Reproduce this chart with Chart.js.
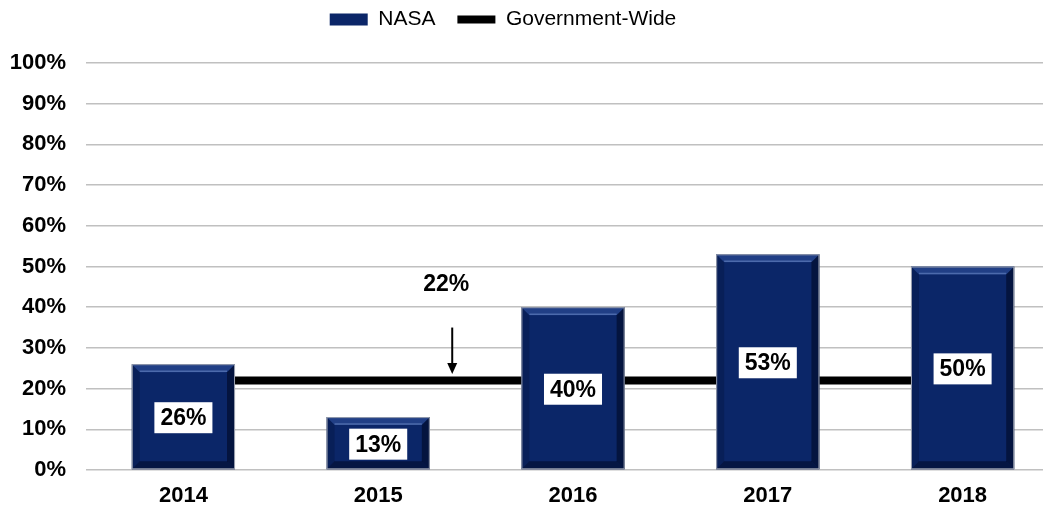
<!DOCTYPE html>
<html>
<head>
<meta charset="utf-8">
<script src="https://cdn.jsdelivr.net/npm/chart.js@4/dist/chart.umd.min.js"></script>
<style>
  html, body { margin: 0; padding: 0; background: #fff; overflow: hidden; }
  #wrap { position: relative; width: 1060px; height: 510px; }
</style>
</head>
<body>
<div id="wrap"><canvas id="chart"></canvas></div>
<script>
const years = ['2014', '2015', '2016', '2017', '2018'];
const nasaValues = [26, 13, 40, 53, 50];
const govWideValues = [22, 22, 22, 22, 22];
const yTicks = [0, 10, 20, 30, 40, 50, 60, 70, 80, 90, 100];

// callout above the government-wide line
const calloutText = '22%';
const calloutIndex = 1.38;
const calloutTextValue = 45.5;
const calloutArrowFrom = 35;
const calloutArrowTo = 23.6;

const navy = '#0b2668';
const font = 'Liberation Sans, Arial, sans-serif';

// bevelled look on the bars
const bevelPlugin = {
    id: 'bevel',
    afterDatasetDraw(chart, args) {
        if (args.index !== 0) return;
        const ctx = chart.ctx;
        const meta = chart.getDatasetMeta(0);
        const b = 8;
        meta.data.forEach(bar => {
            const l = bar.x - bar.width / 2, r = bar.x + bar.width / 2;
            const t = bar.y, bt = bar.base;
            ctx.save();
            // top
            ctx.fillStyle = 'rgba(60,95,170,0.45)';
            ctx.beginPath();
            ctx.moveTo(l, t); ctx.lineTo(r, t); ctx.lineTo(r - b, t + b); ctx.lineTo(l + b, t + b);
            ctx.fill();
            ctx.strokeStyle = 'rgba(120,150,210,0.5)';
            ctx.lineWidth = 1.5;
            ctx.beginPath();
            ctx.moveTo(l + b, t + b - 1); ctx.lineTo(r - b, t + b - 1);
            ctx.stroke();
            // left
            ctx.fillStyle = 'rgba(0,10,40,0.25)';
            ctx.beginPath();
            ctx.moveTo(l, t); ctx.lineTo(l + b, t + b); ctx.lineTo(l + b, bt - b); ctx.lineTo(l, bt);
            ctx.fill();
            // right
            ctx.fillStyle = 'rgba(0,5,30,0.55)';
            ctx.beginPath();
            ctx.moveTo(r, t); ctx.lineTo(r - b, t + b); ctx.lineTo(r - b, bt - b); ctx.lineTo(r, bt);
            ctx.fill();
            // bottom
            ctx.fillStyle = 'rgba(0,5,30,0.5)';
            ctx.beginPath();
            ctx.moveTo(l, bt); ctx.lineTo(l + b, bt - b); ctx.lineTo(r - b, bt - b); ctx.lineTo(r, bt);
            ctx.fill();
            ctx.strokeStyle = '#9aa0ae';
            ctx.lineWidth = 1;
            ctx.strokeRect(l + 0.5, t + 0.5, bar.width - 1, bt - t - 1);
            ctx.restore();
        });
    }
};

// value boxes inside the bars and the 22% callout
const labelPlugin = {
    id: 'labels',
    afterDatasetsDraw(chart) {
        const ctx = chart.ctx;
        const meta = chart.getDatasetMeta(0);
        ctx.save();
        ctx.font = 'bold 23px ' + font;
        ctx.textAlign = 'center';
        ctx.textBaseline = 'middle';
        meta.data.forEach((bar, i) => {
            const txt = nasaValues[i] + '%';
            const w = ctx.measureText(txt).width + 12;
            const h = 31;
            const cy = (bar.y + bar.base) / 2 + 1;
            ctx.fillStyle = '#fff';
            ctx.fillRect(bar.x - w / 2, cy - h / 2, w, h);
            ctx.fillStyle = '#000';
            ctx.fillText(txt, bar.x, cy + 1);
        });

        const x = chart.scales.x.getPixelForValue(calloutIndex);
        const y = chart.scales.y;
        ctx.fillText(calloutText, x - 6, y.getPixelForValue(calloutTextValue));
        const y1 = y.getPixelForValue(calloutArrowFrom);
        const y2 = y.getPixelForValue(calloutArrowTo);
        ctx.strokeStyle = '#000';
        ctx.lineWidth = 2;
        ctx.beginPath();
        ctx.moveTo(x, y1); ctx.lineTo(x, y2 - 8);
        ctx.stroke();
        ctx.beginPath();
        ctx.moveTo(x - 5, y2 - 11); ctx.lineTo(x + 5, y2 - 11); ctx.lineTo(x, y2);
        ctx.closePath();
        ctx.fill();
        ctx.restore();
    }
};

// nudge the legend to where the reference has it
const legendShift = {
    id: 'legendShift',
    afterLayout(chart) {
        const lg = chart.legend;
        lg.left -= 27; lg.right -= 27;
        lg.top -= 23; lg.bottom -= 23;
    }
};

new Chart(document.getElementById('chart'), {
    type: 'bar',
    data: {
        labels: years,
        datasets: [{
            label: 'NASA',
            data: nasaValues,
            backgroundColor: navy,
            borderWidth: 0,
            barPercentage: 0.53,
            categoryPercentage: 1,
            pointStyle: 'rect',
            order: 1
        }, {
            type: 'line',
            label: 'Government-Wide',
            data: govWideValues,
            borderColor: '#000',
            backgroundColor: '#000',
            borderWidth: 8,
            borderCapStyle: 'round',
            pointRadius: 0,
            pointStyle: 'line',
            order: 2
        }]
    },
    plugins: [bevelPlugin, labelPlugin, legendShift],
    options: {
        responsive: true,
        maintainAspectRatio: false,
        animation: false,
        layout: { padding: { top: 10, right: 0, left: 0, bottom: 0 } },
        plugins: {
            tooltip: { enabled: false },
            legend: {
                position: 'top',
                labels: {
                    usePointStyle: true,
                    pointStyleWidth: 38,
                    boxHeight: 12,
                    padding: 22,
                    color: '#000',
                    font: { family: font, size: 21 }
                }
            }
        },
        scales: {
            x: {
                grid: { display: false, drawTicks: false },
                border: { display: false },
                afterFit(scale) { scale.height = 40; },
                ticks: { color: '#000', font: { family: font, size: 22, weight: 'bold' }, padding: 13 }
            },
            y: {
                min: 0,
                max: 100,
                afterBuildTicks(scale) { scale.ticks = yTicks.map(v => ({ value: v })); },
                afterFit(scale) { scale.width = 86; },
                grid: { color: '#c0c0c0', lineWidth: 1.5, drawTicks: false },
                border: { display: false },
                ticks: {
                    color: '#000',
                    padding: 20,
                    font: { family: font, size: 22, weight: 'bold' },
                    callback: v => v + '%'
                }
            }
        }
    }
});
</script>
</body>
</html>
